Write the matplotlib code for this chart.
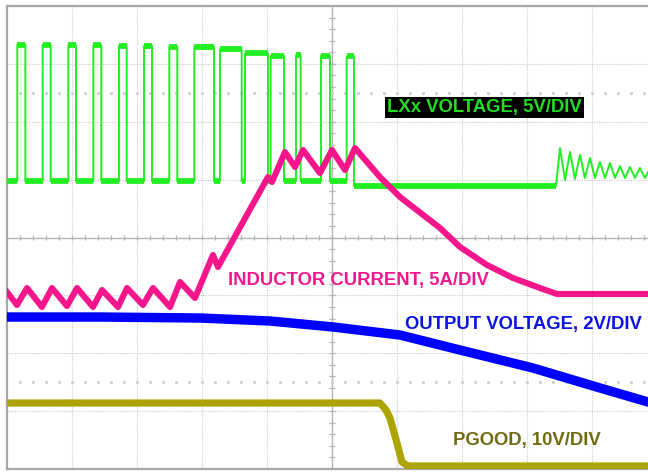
import numpy as np
import matplotlib
matplotlib.use('Agg')
import matplotlib.pyplot as plt

# scope screen units: 1 division on each axis, x 0..10, y 0..8
# LXx switching node (green): rising / falling edges and high level
lx_rise = [0.158, 0.549, 0.943, 1.328, 1.723, 2.108, 2.497, 2.882, 3.277, 3.662, 4.057, 4.446, 4.831, 5.226]
lx_fall = [0.282, 0.672, 1.062, 1.451, 1.842, 2.231, 2.620, 3.185, 3.611, 4.015, 4.262, 4.518, 4.969, 5.338]
lx_high = [7.33, 7.33, 7.32, 7.32, 7.31, 7.31, 7.30, 7.29, 7.25, 7.18, 7.14, 7.15, 7.14, 7.13]
lx_low = 4.97
lx_idle = 4.89
lx_ring_start = 8.446
ring_x = [8.508, 8.585, 8.662, 8.738, 8.815, 8.892, 8.969, 9.046, 9.123, 9.200,
          9.277, 9.354, 9.431, 9.508, 9.585, 9.662, 9.738, 9.815, 9.892]
ring_y = [5.546, 4.993, 5.477, 5.011, 5.425, 5.028, 5.374, 5.028, 5.305, 5.028,
          5.287, 5.028, 5.235, 5.028, 5.218, 5.028, 5.201, 5.028, 5.190]

# inductor current (pink)
il_x = [0.0, 0.154, 0.308, 0.538, 0.692, 0.923, 1.077, 1.323, 1.462, 1.708, 1.846, 2.092,
        2.246, 2.508, 2.662, 2.892, 3.169, 3.246, 4.015, 4.077, 4.277, 4.431, 4.554, 4.815,
        5.0, 5.2, 5.354, 5.738, 6.046, 6.662, 6.969, 7.385, 7.785, 8.2, 8.462, 9.862]
il_y = [3.058, 2.834, 3.127, 2.799, 3.127, 2.816, 3.127, 2.799, 3.093, 2.799, 3.127, 2.834,
        3.127, 2.799, 3.231, 2.955, 3.698, 3.490, 5.045, 4.959, 5.477, 5.218, 5.512, 5.114,
        5.512, 5.166, 5.546, 5.045, 4.700, 4.164, 3.836, 3.525, 3.300, 3.127, 3.024, 3.024]

# output voltage (blue)
vo_x = [0.0, 1.431, 2.969, 4.046, 5.015, 6.046, 6.969, 8.092, 9.123, 9.862]
vo_y = [2.626, 2.626, 2.609, 2.557, 2.454, 2.315, 2.056, 1.745, 1.400, 1.158]

# PGOOD (olive)
pg_x = [0.0, 5.738, 5.831, 5.892, 6.0, 6.077, 6.169, 9.862]
pg_y = [1.140, 1.140, 1.019, 0.881, 0.449, 0.121, 0.052, 0.052]

GREEN = '#22ee22'
PINK = '#f5168c'
BLUE = '#0000ff'
OLIVE = '#aca400'

plt.rcParams['font.family'] = ['Liberation Sans', 'DejaVu Sans']

fig = plt.figure(figsize=(6.48, 4.72), dpi=100)
ax = fig.add_axes([7 / 648, 3 / 472, 641 / 648, 463 / 472])
ax.set_xlim(0, 9.862)
ax.set_ylim(0, 8)
ax.set_xticks([])
ax.set_yticks([])
for side in ['left', 'top', 'bottom']:
    ax.spines[side].set_color('#a8a8a8')
    ax.spines[side].set_linewidth(1.6)
ax.spines['right'].set_visible(False)

# graticule
for gx in range(1, 10):
    if gx != 5:
        ax.axvline(gx, color='#c8c8c8', lw=0.8, ls=(0, (1, 1.2)), zorder=0)
for gy in range(1, 8):
    if gy != 4:
        ax.axhline(gy, color='#c8c8c8', lw=0.8, ls=(0, (1, 1.2)), zorder=0)
ax.axvline(5, color='#b4b4b4', lw=1.0, zorder=0)
ax.axhline(4, color='#b4b4b4', lw=1.0, zorder=0)
tx = np.arange(0.2, 9.9, 0.2)
ax.vlines(tx, 4 - 0.05, 4 + 0.05, color='#b4b4b4', lw=0.9, zorder=0)
ty = np.arange(0.2, 8, 0.2)
ax.hlines(ty, 5 - 0.045, 5 + 0.045, color='#b4b4b4', lw=0.9, zorder=0)
for ry in [1.5, 6.5]:
    ax.plot(tx, np.full(len(tx), ry), ls='none', marker='s', ms=1.1, color='#d0d0d0', zorder=0)

# green LXx waveform built from the edges
gx_pts = [0.0]
gy_pts = [lx_low]
for r, f, h in zip(lx_rise, lx_fall, lx_high):
    gx_pts += [r, r, f, f]
    gy_pts += [lx_low, h, h, lx_low]
gx_pts += [lx_fall[-1], lx_ring_start] + ring_x
gy_pts += [lx_idle, lx_idle] + ring_y
ax.plot(gx_pts, gy_pts, color=GREEN, lw=1.4, zorder=3)
ax.hlines(lx_high, lx_rise, lx_fall, color=GREEN, lw=4.2, zorder=3)
low_starts = [0.0] + lx_fall[:-1]
ax.hlines([lx_low] * len(lx_rise), low_starts, lx_rise, color=GREEN, lw=4.2, zorder=3)
ax.hlines([lx_idle], [lx_fall[-1]], [lx_ring_start], color=GREEN, lw=4.2, zorder=3)

ax.plot(il_x, il_y, color=PINK, lw=4.4, solid_joinstyle='round', zorder=4)
ax.plot(vo_x, vo_y, color=BLUE, lw=6.8, zorder=4)
ax.plot(pg_x, pg_y, color=OLIVE, lw=5.2, zorder=4)

fs = 13.3
ax.text(5.85, 6.25, 'LXx VOLTAGE, 5V/DIV', color='#22dd22', fontsize=fs, fontweight='bold',
        va='center', ha='left', zorder=6,
        bbox=dict(facecolor='black', edgecolor='none', boxstyle='square,pad=0.1'))
ax.text(3.40, 3.25, 'INDUCTOR CURRENT, 5A/DIV', color='#f0188e', fontsize=fs, fontweight='bold',
        va='center', ha='left', zorder=6)
ax.text(6.12, 2.505, 'OUTPUT VOLTAGE, 2V/DIV', color='#0b14e0', fontsize=fs, fontweight='bold',
        va='center', ha='left', zorder=6)
ax.text(6.86, 0.50, 'PGOOD, 10V/DIV', color='#716b12', fontsize=fs, fontweight='bold',
        va='center', ha='left', zorder=6)

fig.savefig('out.png', dpi=100)
